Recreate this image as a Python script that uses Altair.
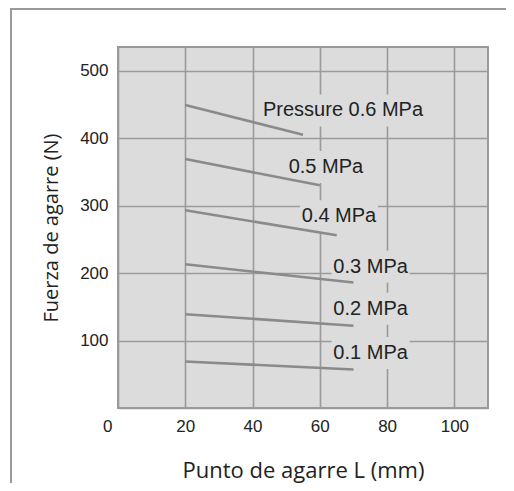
import altair as alt
import pandas as pd

# ---- data ----
pressures = ["0.1", "0.2", "0.3", "0.4", "0.5", "0.6"]
L_start = [20, 20, 20, 20, 20, 20]
L_end = [70, 70, 70, 65, 60, 55]
F_start = [69, 139, 213, 293, 369, 449]
F_end = [57, 122, 186, 256, 330, 405]

label_texts = ["0.1 MPa", "0.2 MPa", "0.3 MPa", "0.4 MPa", "0.5 MPa", "Pressure 0.6 MPa"]
label_L = [75.1, 75.1, 75.1, 65.7, 61.8, 66.9]
label_F = [81.5, 147, 209.7, 284, 357, 441]

x_ticks = [0, 20, 40, 60, 80, 100]
y_ticks = [0, 100, 200, 300, 400, 500]
X_DOMAIN = [0, 110]
Y_DOMAIN = [0, 535]

# ---- layout ----
W, H = 370, 361
PAD_L, PAD_T, PAD_R, PAD_B = 110, 39, 18, 75
BG = "#dcdcdc"
GRID = "#9a9a9a"
LINE = "#8a8a8a"

rows = []
for p, l0, l1, f0, f1 in zip(pressures, L_start, L_end, F_start, F_end):
    rows.append({"pressure": p, "L": l0, "F": f0})
    rows.append({"pressure": p, "L": l1, "F": f1})
df = pd.DataFrame(rows)

# label boxes (background patches that interrupt the grid)
px_x = W / (X_DOMAIN[1] - X_DOMAIN[0])
px_y = H / (Y_DOMAIN[1] - Y_DOMAIN[0])
lab = pd.DataFrame({"text": label_texts, "L": label_L, "F": label_F})
half_w = lab["text"].str.len() * 5 + 4
lab["L1"] = lab["L"] - half_w / px_x
lab["L2"] = lab["L"] + half_w / px_x
lab["F1"] = lab["F"] - 16 / px_y
lab["F2"] = lab["F"] + 16 / px_y

xs = alt.Scale(domain=X_DOMAIN, nice=False, zero=False)
ys = alt.Scale(domain=Y_DOMAIN, nice=False, zero=False)

x_axis = alt.Axis(
    values=x_ticks, grid=True, domain=False, ticks=False,
    labelFlush=False, labelOverlap=False,
    labelAlign={"condition": {"test": "datum.value == 0", "value": "right"}, "value": "center"},
    labelOffset={"condition": {"test": "datum.value == 0", "value": -6}, "value": 0},
    title="Punto de agarre L (mm)",
)
y_axis = alt.Axis(
    values=y_ticks, grid=True, domain=False, ticks=False,
    labelExpr="datum.value == 0 ? '' : datum.label",
    title="Fuerza de agarre (N)",
)

boxes = alt.Chart(lab).mark_rect(fill=BG).encode(
    x=alt.X("L1:Q", scale=xs, axis=x_axis), x2="L2:Q",
    y=alt.Y("F1:Q", scale=ys, axis=y_axis), y2="F2:Q",
)

lines = alt.Chart(df).mark_line(color=LINE, strokeWidth=2.6).encode(
    x=alt.X("L:Q", scale=xs),
    y=alt.Y("F:Q", scale=ys),
    detail="pressure:N",
)

texts = alt.Chart(lab).mark_text(
    font="Liberation Sans", fontSize=20, color="#222", align="center", baseline="middle"
).encode(
    x=alt.X("L:Q", scale=xs), y=alt.Y("F:Q", scale=ys), text="text:N"
)

frame_df = pd.DataFrame({"a": [0]})
top_rule = alt.Chart(frame_df).mark_rule(color="#9a9a9a", strokeWidth=2).encode(
    x=alt.value(-107), x2=alt.value(W + 40), y=alt.value(-38)
)
left_rule = alt.Chart(frame_df).mark_rule(color="#9a9a9a", strokeWidth=2).encode(
    x=alt.value(-107), y=alt.value(-39), y2=alt.value(H + 90)
)

chart = alt.layer(boxes, top_rule, left_rule, lines, texts).properties(
    width=W, height=H,
    autosize=alt.AutoSizeParams(type="none"),
    padding={"left": PAD_L, "top": PAD_T, "right": PAD_R, "bottom": PAD_B},
).configure_view(
    fill=BG, stroke=GRID, strokeWidth=2
).configure_axis(
    gridColor=GRID, gridWidth=1.6, gridOpacity=1,
    labelFont="Liberation Sans", labelFontSize=17, labelColor="#222", labelPadding=10,
    titleFont="Open Sans", titleFontWeight="normal", titleColor="#222",
).configure_axisX(
    titlePadding=26, titleFontSize=22
).configure_axisY(
    titlePadding=18, titleFontSize=20
)

chart.save("out.html", embed_options={"renderer": "svg", "actions": False})
